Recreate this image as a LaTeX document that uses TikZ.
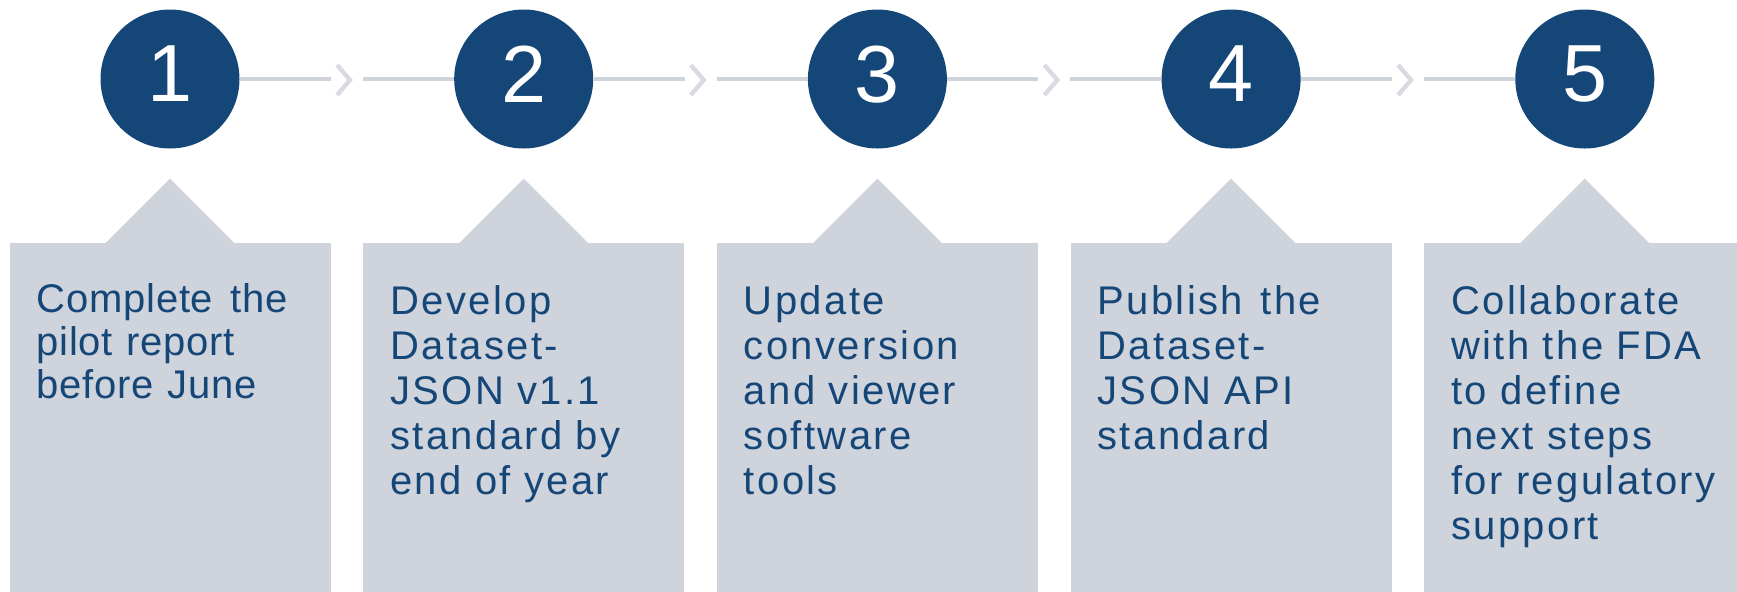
\documentclass[tikz,border=0pt]{standalone}
\usepackage{fontspec}
\setmainfont{Liberation Sans}
\definecolor{stepblue}{RGB}{21,70,120}
\definecolor{panelgray}{RGB}{207,211,219}
\definecolor{chevgray}{RGB}{216,219,225}
\tikzset{
  stepdot/.style={circle, fill=stepblue, minimum size=69.5pt, inner sep=0pt,
    text=white, font=\fontsize{40.5}{40.5}\selectfont, text depth=5pt},
  panel/.style={rectangle, fill=panelgray, minimum width=160.5pt,
    minimum height=178.5pt, inner sep=0pt},
  panelnote/.style={anchor=base west, text width=152pt, align=left, inner sep=0pt,
    text=stepblue, font=\fontsize{20}{22.5}\selectfont\addfontfeatures{LetterSpace=6}},
  link/.style={draw=panelgray, line width=2pt},
  chevron/.style={draw=chevgray, line width=2.2pt}
}

\begin{document}
\begin{tikzpicture}[x=0.5pt, y=-0.5pt]
    \clip (0,0) rectangle (1737,591);
    % numbered steps
    \node[stepdot] (c1) at (170,79) {1};
    \node[stepdot] (c2) at (523.7,79) {2};
    \node[stepdot] (c3) at (877.4,79) {3};
    \node[stepdot] (c4) at (1231.1,79) {4};
    \node[stepdot] (c5) at (1584.8,79) {5};
    % panels below the steps
    \node[panel] (b1) at (170,421.5) {};
    \node[panel] (b2) at (523.7,421.5) {};
    \node[panel] (b3) at (877.4,421.5) {};
    \node[panel] (b4) at (1231.1,421.5) {};
    \node[panel] (b5) at (1584.8,421.5) {};
    \fill[panelgray] ([xshift=-33pt,yshift=-1pt]b1.north) -- ([yshift=32pt]b1.north) -- ([xshift=33pt,yshift=-1pt]b1.north) -- cycle;
    \fill[panelgray] ([xshift=-33pt,yshift=-1pt]b2.north) -- ([yshift=32pt]b2.north) -- ([xshift=33pt,yshift=-1pt]b2.north) -- cycle;
    \fill[panelgray] ([xshift=-33pt,yshift=-1pt]b3.north) -- ([yshift=32pt]b3.north) -- ([xshift=33pt,yshift=-1pt]b3.north) -- cycle;
    \fill[panelgray] ([xshift=-33pt,yshift=-1pt]b4.north) -- ([yshift=32pt]b4.north) -- ([xshift=33pt,yshift=-1pt]b4.north) -- cycle;
    \fill[panelgray] ([xshift=-33pt,yshift=-1pt]b5.north) -- ([yshift=32pt]b5.north) -- ([xshift=33pt,yshift=-1pt]b5.north) -- cycle;
    % panel texts
    \node[panelnote, font=\fontsize{20}{21.5}\selectfont\addfontfeatures{LetterSpace=2}] (t1)
      at ([xshift=13.5pt,yshift=-35pt]b1.north west) {Complete\hspace{2pt} the\\pilot report\\before June};
    \node[panelnote] (t2) at ([xshift=13.5pt,yshift=-36pt]b2.north west) {Develop\\Dataset-\\JSON v1.1\\standard by\\end of year};
    \node[panelnote] (t3) at ([xshift=13.5pt,yshift=-36pt]b3.north west) {Update\\conversion\\and viewer\\software\\tools};
    \node[panelnote] (t4) at ([xshift=13.5pt,yshift=-36pt]b4.north west) {Publish\hspace{2pt} the\\Dataset-\\JSON API\\standard};
    \node[panelnote] (t5) at ([xshift=13.5pt,yshift=-36pt]b5.north west) {Collaborate\\with the FDA\\to define\\next steps\\for regulatory\\support};
    % connectors between the steps
    \draw[link] (c1.east) -- (c1.east -| b1.east);
    \draw[link] (b2.west |- c2.west) -- (c2.west);
    \draw[link] (c2.east) -- (c2.east -| b2.east);
    \draw[link] (b3.west |- c3.west) -- (c3.west);
    \draw[link] (c3.east) -- (c3.east -| b3.east);
    \draw[link] (b4.west |- c4.west) -- (c4.west);
    \draw[link] (c4.east) -- (c4.east -| b4.east);
    \draw[link] (b5.west |- c5.west) -- (c5.west);
    % chevrons in the gaps
    \coordinate (k1) at (350,80);
    \coordinate (k2) at (703.7,80);
    \coordinate (k3) at (1057.4,80);
    \coordinate (k4) at (1411.1,80);
    \draw[chevron] ([shift={(-6.5pt,7.5pt)}]k1) -- (k1) -- ([shift={(-6.5pt,-7.5pt)}]k1);
    \draw[chevron] ([shift={(-6.5pt,7.5pt)}]k2) -- (k2) -- ([shift={(-6.5pt,-7.5pt)}]k2);
    \draw[chevron] ([shift={(-6.5pt,7.5pt)}]k3) -- (k3) -- ([shift={(-6.5pt,-7.5pt)}]k3);
    \draw[chevron] ([shift={(-6.5pt,7.5pt)}]k4) -- (k4) -- ([shift={(-6.5pt,-7.5pt)}]k4);
  \end{tikzpicture}
\end{document}
